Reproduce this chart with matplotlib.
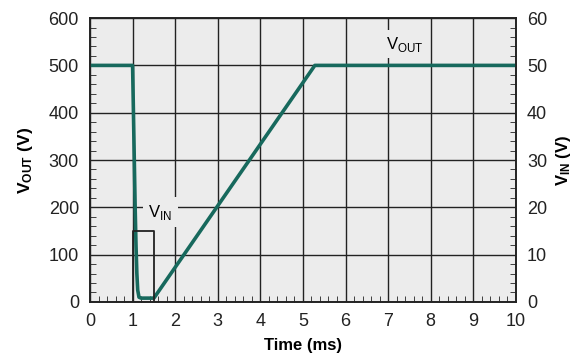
import matplotlib
matplotlib.use("Agg")
import matplotlib.pyplot as plt
from matplotlib.ticker import MultipleLocator

plt.rcParams['font.family'] = ['Liberation Sans', 'DejaVu Sans']
plt.rcParams['mathtext.fontset'] = 'custom'
plt.rcParams['mathtext.rm'] = 'Liberation Sans'
plt.rcParams['mathtext.bf'] = 'Liberation Sans:bold'

# Données
t_out = [0.0, 1.0, 1.02, 1.04, 1.06, 1.08, 1.10, 1.12, 1.15, 1.20, 1.50, 5.28, 10.0]
v_out = [500, 500, 400, 300, 200, 120, 60, 25, 10, 8, 8, 500, 500]
t_in = [1.0, 1.0, 1.5, 1.5]
v_in = [0, 15, 15, 0]

couleur_out = '#17695d'
fond = '#ececec'

fig = plt.figure(figsize=(5.77, 3.62), dpi=100)
ax = fig.add_axes([0.156, 0.166, 0.738, 0.784])
ax.set_facecolor(fond)
ax2 = ax.twinx()

ax.plot(t_out, v_out, color=couleur_out, linewidth=2.6, zorder=4)
ax2.plot(t_in, v_in, color='#222222', linewidth=1.3, zorder=3)

ax.set_xlim(0, 10)
ax.set_ylim(0, 600)
ax2.set_ylim(0, 60)
ax.xaxis.set_major_locator(MultipleLocator(1))
ax.xaxis.set_minor_locator(MultipleLocator(0.2))
ax.yaxis.set_major_locator(MultipleLocator(100))
ax.yaxis.set_minor_locator(MultipleLocator(20))
ax2.yaxis.set_major_locator(MultipleLocator(10))
ax2.yaxis.set_minor_locator(MultipleLocator(2))

ax.grid(True, which='major', color='#222222', linewidth=1.0)
ax.set_axisbelow(True)
for a in (ax, ax2):
    a.tick_params(which='both', direction='in', labelsize=13, color='#222222',
                  labelcolor='#222222')
    a.tick_params(which='major', length=0, pad=8)
    a.tick_params(which='minor', length=4)
    for s in a.spines.values():
        s.set_color('#222222')
        s.set_linewidth(1.2)
ax.tick_params(axis='x', which='major', pad=8)

ax.set_xlabel('Time (ms)', fontsize=12, fontweight='bold', labelpad=6)
ax.set_ylabel(r'$\mathbf{V_{OUT}}$ (V)', fontsize=12.5, fontweight='bold', labelpad=10)
ax2.set_ylabel(r'$\mathbf{V_{IN}}$ (V)', fontsize=12, fontweight='bold', labelpad=5)

ax.text(1.65, 190, r'V$_{\rm IN}$', fontsize=12, ha='center', va='center',
        bbox=dict(facecolor=fond, edgecolor='none', pad=4), zorder=5)
ax.text(7.4, 545, r'V$_{\rm OUT}$', fontsize=12, ha='center', va='center',
        bbox=dict(facecolor=fond, edgecolor='none', pad=3), zorder=5)

fig.savefig('out.png', dpi=100)
